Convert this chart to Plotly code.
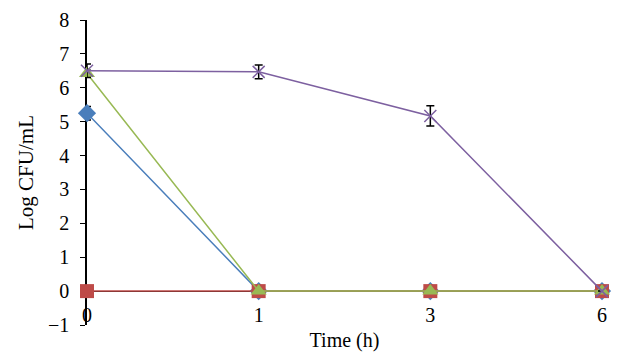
import plotly.graph_objects as go

time_labels = ["0", "1", "3", "6"]
x_pos = [0, 1, 2, 3]

series_names = ["Series 1", "Series 2", "Series 3", "Series 4"]
blue_vals = [5.25, 0, 0, 0]
blue_err = [0.2, 0, 0, 0]
red_vals = [0, 0, 0, 0]
red_err = [0, 0, 0, 0]
green_vals = [6.42, 0, 0, 0]
green_err = [0.1, 0, 0, 0]
purple_vals = [6.5, 6.47, 5.17, 0]
purple_err = [0.2, 0.2, 0.3, 0]

y_ticks = [-1, 0, 1, 2, 3, 4, 5, 6, 7, 8]

FONT = "Liberation Serif"

fig = go.Figure()

def add(vals, err, color, symbol, size, name, mline=0):
    fig.add_trace(go.Scatter(
        x=x_pos, y=vals, mode="lines+markers", name=name,
        line=dict(color=color, width=1.5),
        marker=dict(symbol=symbol, size=size, color=color,
                    line=dict(width=mline, color=color)),
        error_y=dict(type="data", array=err, visible=True, color="black",
                     thickness=1.5, width=4),
        cliponaxis=False,
    ))

add(blue_vals, blue_err, "#4A7EBB", "diamond", 14, series_names[0])
add(red_vals, red_err, "#BE4B48", "square", 14, series_names[1])
add(green_vals, green_err, "#98B954", "triangle-up", 14, series_names[2])
add(purple_vals, purple_err, "#7D60A0", "x-thin-open", 12, series_names[3], mline=1.5)

tickfont = dict(family=FONT, size=20, color="black")

fig.update_layout(
    width=619, height=355,
    margin=dict(l=87, r=17, t=20, b=30),
    paper_bgcolor="white", plot_bgcolor="white",
    showlegend=False,
    font=dict(family=FONT, size=20, color="black"),
    xaxis=dict(
        range=[0, 3], tickvals=x_pos, ticktext=time_labels,
        showgrid=False, zeroline=False, showline=True, linecolor="black",
        linewidth=1, ticks="outside", ticklen=6, tickcolor="black",
        tickfont=tickfont, ticklabelstandoff=0, layer="below traces",
        anchor="free", position=1/9, automargin=False,
        title=dict(text="Time (h)", font=dict(size=20, family=FONT), standoff=7),
    ),
    yaxis=dict(
        range=[-1, 8], tickvals=y_ticks,
        showgrid=False, zeroline=False, showline=True, linecolor="black",
        linewidth=1.5, ticks="outside", ticklen=5, tickcolor="black",
        tickfont=tickfont, ticklabelstandoff=7, layer="below traces",
        automargin=False,
        title=dict(text="Log CFU/mL", font=dict(size=21, family=FONT), standoff=9),
    ),
)

fig.write_html(
    "out.html",
    config={"displayModeBar": False},
    post_script="document.body.style.margin='0';document.body.style.overflow='hidden';",
)
